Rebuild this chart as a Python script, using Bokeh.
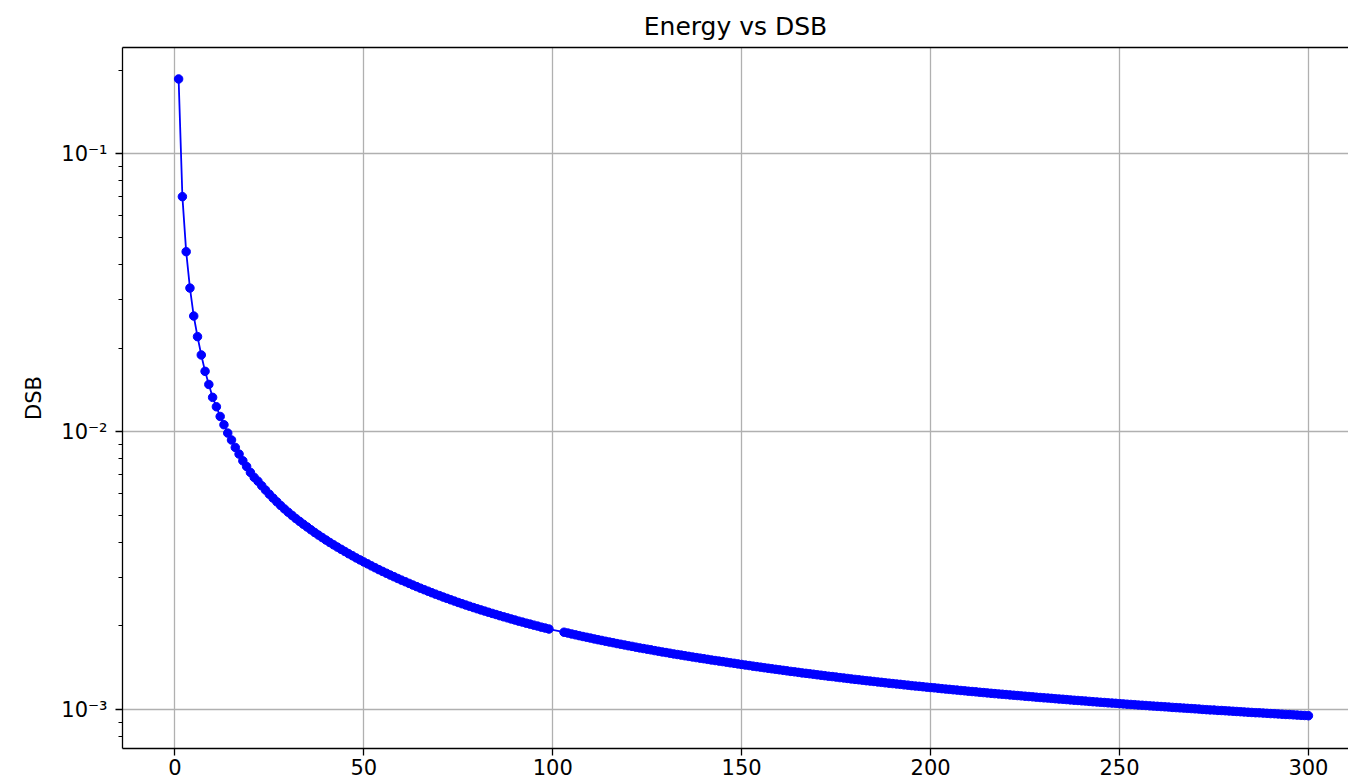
from bokeh.plotting import figure
from bokeh.models import Range1d, FixedTicker, CustomJSTickFormatter, LinearAxis
from bokeh.embed import file_html
from bokeh.resources import INLINE

# ---- data ----
energy = list(range(1, 100)) + list(range(103, 301))

dsb_1_21 = [0.1862, 0.0702, 0.0445, 0.0329, 0.0261, 0.0220, 0.0189, 0.0165, 0.0148, 0.0133,
            0.0123, 0.01135, 0.0106, 0.00989, 0.00934, 0.00878, 0.00831, 0.00786, 0.00750, 0.00714,
            0.00685]

dsb_22_99 = [0.006636, 0.006391, 0.006167, 0.005960, 0.005769, 0.005593, 0.005429, 0.005276, 0.005133,
             0.005000, 0.004875, 0.004758, 0.004647, 0.004543, 0.004439, 0.004341, 0.004247, 0.004159,
             0.004075, 0.003995, 0.003917, 0.003844, 0.003773, 0.003707, 0.003639, 0.003577, 0.003515,
             0.003457, 0.003400, 0.003345, 0.003290, 0.003240, 0.003189, 0.003142, 0.003095, 0.003049,
             0.003007, 0.002964, 0.002923, 0.002884, 0.002845, 0.002806, 0.002770, 0.002735, 0.002700,
             0.002667, 0.002634, 0.002603, 0.002571, 0.002541, 0.002513, 0.002484, 0.002457, 0.002429,
             0.002404, 0.002378, 0.002354, 0.002329, 0.002306, 0.002284, 0.002261, 0.002240, 0.002218,
             0.002198, 0.002177, 0.002157, 0.002138, 0.002119, 0.002100, 0.002081, 0.002064, 0.002046,
             0.002030, 0.002013, 0.001997, 0.001980, 0.001965, 0.001949]

dsb_103_200 = [0.001898, 0.001885, 0.001871, 0.001858, 0.001845, 0.001832, 0.001820, 0.001808, 0.001796,
               0.001784, 0.001773, 0.001761, 0.001750, 0.001740, 0.001728, 0.001718, 0.001708, 0.001697,
               0.001688, 0.001677, 0.001667, 0.001658, 0.001649, 0.001640, 0.001630, 0.001621, 0.001612,
               0.001604, 0.001595, 0.001586, 0.001578, 0.001570, 0.001562, 0.001554, 0.001546, 0.001538,
               0.001531, 0.001524, 0.001516, 0.001508, 0.001501, 0.001494, 0.001488, 0.001481, 0.001473,
               0.001467, 0.001460, 0.001453, 0.001446, 0.001440, 0.001433, 0.001427, 0.001421, 0.001414,
               0.001408, 0.001402, 0.001396, 0.001390, 0.001384, 0.001378, 0.001372, 0.001367, 0.001361,
               0.001355, 0.001350, 0.001345, 0.001340, 0.001334, 0.001329, 0.001324, 0.001318, 0.001314,
               0.001309, 0.001303, 0.001299, 0.001294, 0.001289, 0.001284, 0.001280, 0.001275, 0.001270,
               0.001266, 0.001262, 0.001257, 0.001253, 0.001248, 0.001244, 0.001240, 0.001236, 0.001232,
               0.001227, 0.001224, 0.001219, 0.001215, 0.001212, 0.001208, 0.001204, 0.001200]

dsb_201_300 = [0.001197, 0.001193, 0.001189, 0.001185, 0.001182, 0.001178, 0.001175, 0.001171, 0.001168,
               0.001164, 0.001161, 0.001158, 0.001154, 0.001151, 0.001148, 0.001144, 0.001141, 0.001138,
               0.001135, 0.001132, 0.001129, 0.001126, 0.001123, 0.001120, 0.001117, 0.001114, 0.001111,
               0.001108, 0.001105, 0.001102, 0.001100, 0.001097, 0.001094, 0.001091, 0.001089, 0.001086,
               0.001083, 0.001080, 0.001078, 0.001075, 0.001073, 0.001070, 0.001067, 0.001065, 0.001062,
               0.001060, 0.001057, 0.001055, 0.001053, 0.001050, 0.001048, 0.001045, 0.001043, 0.001041,
               0.001038, 0.001036, 0.001034, 0.001031, 0.001029, 0.001027, 0.001025, 0.001023, 0.001021,
               0.001018, 0.001016, 0.001014, 0.001012, 0.001010, 0.001008, 0.001006, 0.001004, 0.001001,
               0.000999, 0.000997, 0.000996, 0.000993, 0.000992, 0.000990, 0.000988, 0.000986, 0.000984,
               0.000982, 0.000980, 0.000978, 0.000976, 0.000974, 0.000973, 0.000971, 0.000969, 0.000967,
               0.000966, 0.000964, 0.000962, 0.000960, 0.000959, 0.000957, 0.000955, 0.000953, 0.000952,
               0.000950]

dsb = dsb_1_21 + dsb_22_99 + dsb_103_200 + dsb_201_300

x_ticks = [0, 50, 100, 150, 200, 250, 300]
y_major = [1e-3, 1e-2, 1e-1]
y_minor = [m * 10.0 ** e for e in (-4, -3, -2, -1) for m in range(2, 10)]

FONT = "DejaVu Sans"
BLUE = "#0000ff"

p = figure(width=1348, height=781, title="Energy vs DSB", y_axis_type="log",
           x_range=Range1d(-13.85, 310.6), y_range=Range1d(0.000724, 0.2417),
           output_backend="svg", toolbar_location=None,
           min_border_left=122, min_border_right=0, min_border_top=47, min_border_bottom=33)
p.outline_line_color = None
p.background_fill_color = "white"
p.border_fill_color = "white"

p.title.text_font = FONT
p.title.text_font_size = "25px"
p.title.text_font_style = "normal"
p.title.text_color = "black"
p.title.align = "center"
p.title.offset = 6
p.title.standoff = 13

xa = p.below[0]
ya = p.left[0]

# top spine (line only)
top = LinearAxis(ticker=FixedTicker(ticks=[]), major_label_text_font_size="0px",
                 major_tick_out=0, major_tick_in=0, minor_tick_out=0, minor_tick_in=0,
                 major_label_standoff=0, axis_line_color="black", axis_line_width=1.3)
p.add_layout(top, "above")

xa.ticker = FixedTicker(ticks=x_ticks)
xa.minor_tick_out = 0
xa.minor_tick_in = 0

ya.ticker = FixedTicker(ticks=y_major, minor_ticks=y_minor)
ya.formatter = CustomJSTickFormatter(code="""
const e = Math.round(Math.log10(tick));
const sup = {"-": "\u207b", "0": "\u2070", "1": "\u00b9", "2": "\u00b2", "3": "\u00b3",
             "4": "\u2074", "5": "\u2075", "6": "\u2076", "7": "\u2077", "8": "\u2078", "9": "\u2079"};
return "10" + String(e).split("").map(c => sup[c]).join("");
""")
ya.axis_label = "DSB"
ya.axis_label_text_font = FONT
ya.axis_label_text_font_size = "21px"
ya.axis_label_text_font_style = "normal"
ya.axis_label_text_color = "black"
ya.axis_label_standoff = 12
ya.minor_tick_out = 4
ya.minor_tick_in = 0
ya.minor_tick_line_color = "black"
ya.minor_tick_line_width = 1.1

for ax in (xa, ya):
    ax.axis_line_color = "black"
    ax.axis_line_width = 1.3
    ax.major_tick_line_color = "black"
    ax.major_tick_line_width = 1.3
    ax.major_tick_out = 7
    ax.major_tick_in = 0
    ax.major_label_text_font = FONT
    ax.major_label_text_font_size = "21px"
    ax.major_label_text_color = "black"
xa.major_label_standoff = 3
ya.major_label_standoff = 8

p.xgrid.ticker = FixedTicker(ticks=x_ticks)
p.ygrid.ticker = FixedTicker(ticks=y_major)
for g in (p.xgrid[0], p.ygrid[0]):
    g.grid_line_color = "#b0b0b0"
    g.grid_line_width = 1.3

p.line(energy, dsb, line_color=BLUE, line_width=1.8)
p.scatter(energy, dsb, size=8.5, fill_color=BLUE, line_color=BLUE, line_width=1.0)

open("out.html", "w").write(file_html(p, INLINE))
